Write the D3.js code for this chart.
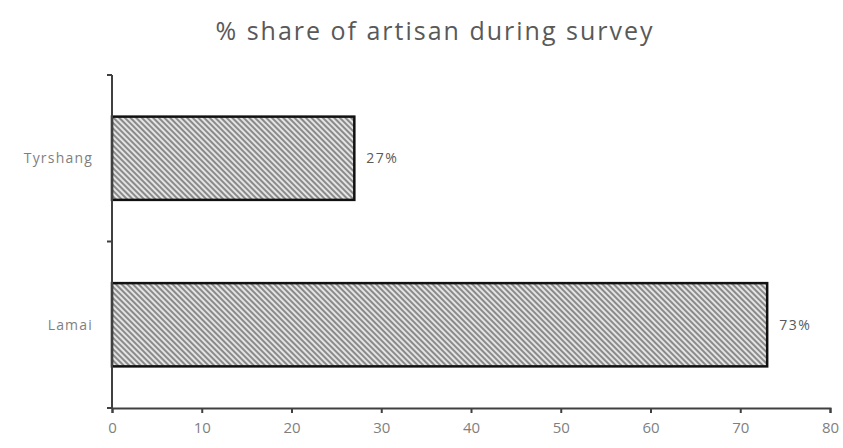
<!DOCTYPE html>
<html>
<head>
<meta charset="utf-8">
<script src="https://cdn.jsdelivr.net/npm/d3@7"></script>
<style>
  html, body { margin: 0; padding: 0; background: #fff; }
  svg { display: block; }
</style>
</head>
<body>
<svg id="chart" width="843" height="448"></svg>
<script>
// Survey data: share of artisans by village
const categories = ["Tyrshang", "Lamai"];
const shares = [27, 73];
const valueLabels = ["27%", "73%"];
const xTicks = [0, 10, 20, 30, 40, 50, 60, 70, 80];
const chartTitle = "% share of artisan during survey";

const W = 843, H = 448;
const margin = { top: 75, right: 13, bottom: 40, left: 112 };
const font = "'Open Sans', sans-serif";

const svg = d3.select("#chart");

// Diagonal hatch fill
const defs = svg.append("defs");
const pat = defs.append("pattern")
  .attr("id", "hatch")
  .attr("patternUnits", "userSpaceOnUse")
  .attr("width", 4)
  .attr("height", 4)
  .attr("patternTransform", "rotate(-45)");
pat.append("rect").attr("width", 4).attr("height", 4).attr("fill", "#e4e4e4");
pat.append("line")
  .attr("x1", 1).attr("y1", 0).attr("x2", 1).attr("y2", 4)
  .attr("stroke", "#7a7a7a").attr("stroke-width", 1.7);

const x = d3.scaleLinear()
  .domain([0, 80])
  .range([margin.left, W - margin.right]);

const y = d3.scaleBand()
  .domain(categories)
  .range([margin.top, H - margin.bottom])
  .paddingInner(0.5)
  .paddingOuter(0.25);

// Title
svg.append("text")
  .attr("x", 435)
  .attr("y", 40)
  .attr("text-anchor", "middle")
  .attr("font-family", font)
  .attr("font-size", 25)
  .attr("letter-spacing", 2)
  .attr("fill", "#595959")
  .text(chartTitle);

// Bars
const data = categories.map((c, i) => ({ c, v: shares[i], label: valueLabels[i] }));

svg.append("g").selectAll("rect")
  .data(data)
  .join("rect")
  .attr("x", x(0))
  .attr("y", d => y(d.c))
  .attr("width", d => x(d.v) - x(0))
  .attr("height", y.bandwidth())
  .attr("fill", "url(#hatch)")
  .attr("stroke", "#111")
  .attr("stroke-width", 2.5);

// Value labels
svg.append("g").selectAll("text")
  .data(data)
  .join("text")
  .attr("x", d => x(d.v) + 12)
  .attr("y", d => y(d.c) + y.bandwidth() / 2)
  .attr("dy", "0.35em")
  .attr("font-family", font)
  .attr("font-size", 14)
  .attr("letter-spacing", 1.5)
  .attr("fill", "#595959")
  .text(d => d.label);

// X axis
const xAxis = svg.append("g")
  .attr("transform", `translate(0,${H - margin.bottom})`)
  .call(d3.axisBottom(x).tickValues(xTicks).tickSize(5).tickSizeOuter(5).tickPadding(9));
xAxis.select(".domain").attr("stroke", "#404040").attr("stroke-width", 2);
xAxis.selectAll(".tick line").attr("stroke", "#404040").attr("stroke-width", 2);
xAxis.selectAll(".tick text")
  .attr("font-family", font)
  .attr("font-size", 15)
  .attr("fill", "#7f7f7f");

// Y axis: category boundaries marked with ticks
const yAxisG = svg.append("g").attr("transform", `translate(${x(0)},0)`);
yAxisG.append("line")
  .attr("x1", 0).attr("x2", 0)
  .attr("y1", margin.top).attr("y2", H - margin.bottom)
  .attr("stroke", "#404040").attr("stroke-width", 2);
const bounds = [margin.top, (y("Tyrshang") + y.bandwidth() + y("Lamai")) / 2, H - margin.bottom];
yAxisG.selectAll("line.bt")
  .data(bounds)
  .join("line")
  .attr("class", "bt")
  .attr("x1", -5).attr("x2", 0)
  .attr("y1", d => d).attr("y2", d => d)
  .attr("stroke", "#404040").attr("stroke-width", 2);
yAxisG.selectAll("text")
  .data(categories)
  .join("text")
  .attr("x", -19)
  .attr("y", d => y(d) + y.bandwidth() / 2)
  .attr("dy", "0.35em")
  .attr("text-anchor", "end")
  .attr("font-family", font)
  .attr("font-size", 14)
  .attr("letter-spacing", 1.2)
  .attr("fill", "#7f7f7f")
  .text(d => d);
</script>
</body>
</html>
